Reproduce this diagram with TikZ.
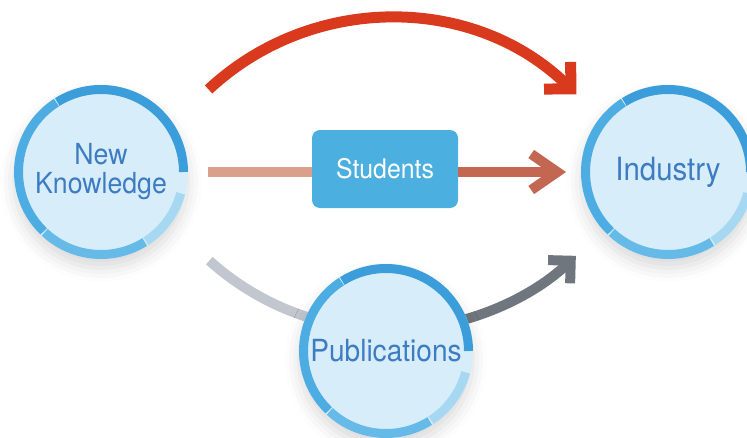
\documentclass[tikz,border=0pt]{standalone}
\usepackage{fontspec}
\setmainfont{TeX Gyre Heros}[FakeStretch=0.92]
\usetikzlibrary{arrows.meta,shadows.blur}
\definecolor{fillc}{HTML}{D8EDFA}
\definecolor{ringdark}{HTML}{3B9EDB}
\definecolor{ringlight}{HTML}{A6D8F2}
\definecolor{ringbot}{HTML}{66BAE8}
\definecolor{ringleft}{HTML}{4DADE2}
\definecolor{txtblue}{HTML}{3D7CC2}
\definecolor{boxblue}{HTML}{4BAFE0}
\definecolor{redarr}{HTML}{D93A1E}
\definecolor{salmonL}{HTML}{DBA08C}
\definecolor{salmonR}{HTML}{C36652}
\definecolor{grayL}{HTML}{C2C6CE}
\definecolor{grayR}{HTML}{6F767D}
\begin{document}
\begin{tikzpicture}[x=1pt,y=1pt,
  bubble/.style={circle, fill=fillc, minimum size=174pt, inner sep=0pt, text=txtblue, align=center,
    blur shadow={shadow xshift=0pt, shadow yshift=-9pt, shadow blur radius=14pt, shadow opacity=15}},
  ringseg/.style={line width=9pt, line cap=butt},
  studbox/.style={rectangle, rounded corners=8pt, fill=boxblue, text=white, minimum width=146pt, minimum height=78pt, inner sep=0pt},
  flow/.style={line width=11pt, line cap=butt},
]
\useasboundingbox (0,0) rectangle (747,-437);
\clip (0,0) rectangle (747,-437);

% top red arrow
\path (390,-284) ++(133:266) coordinate (ta);
\draw[flow, redarr, -{Straight Barb[length=19pt, width=38pt, line width=11pt, sharp]}]
  (ta) arc[start angle=133, end angle=45.5, radius=266];

% students box and middle arrow
\node[studbox, font=\fontsize{27}{30}\selectfont] (stud) at (385,-169) {Students};
\coordinate (ma) at (208,-172);
\coordinate (mb) at (566,-172);
\draw[flow, salmonL, line width=10pt] (ma) -- (ma -| stud.west);
\draw[flow, salmonR, line width=10pt, -{Straight Barb[length=26pt, width=36pt, line width=10pt, sharp]}]
  (mb -| stud.east) -- (mb);

% bottom gray arrow
\path (390,-60) ++(228:270) coordinate (ba);
\path (390,-60) ++(280:270) coordinate (bb);
\draw[flow, grayL, line width=10pt] (ba) arc[start angle=228, end angle=262, radius=270];
\draw[flow, grayR, line width=10pt, -{Straight Barb[length=16pt, width=32pt, line width=10pt, sharp]}]
  (bb) arc[start angle=280, end angle=313.5, radius=270];

% circles
\node[bubble, font=\fontsize{29}{29}\selectfont] (nk) at (101,-172) {New\\Knowledge};
\node[bubble, font=\fontsize{32}{32}\selectfont] (ind) at (668,-172) {Industry};
\node[bubble, font=\fontsize{30.5}{30}\selectfont] (pub) at (386,-351) {Publications};

\foreach \n in {nk,ind,pub}{
  \draw[ringseg, ringdark] (\n.center) ++(122:82.5) arc[start angle=122, end angle=0, radius=82.5];
  \draw[ringseg, ringlight] (\n.center) ++(-15:82.5) arc[start angle=-15, end angle=-57, radius=82.5];
  \draw[ringseg, ringbot] (\n.center) ++(-58:82.5) arc[start angle=-58, end angle=-133, radius=82.5];
  \draw[ringseg, ringleft] (\n.center) ++(-134:82.5) arc[start angle=-134, end angle=-237.3, radius=82.5];
}
\end{tikzpicture}
\end{document}
